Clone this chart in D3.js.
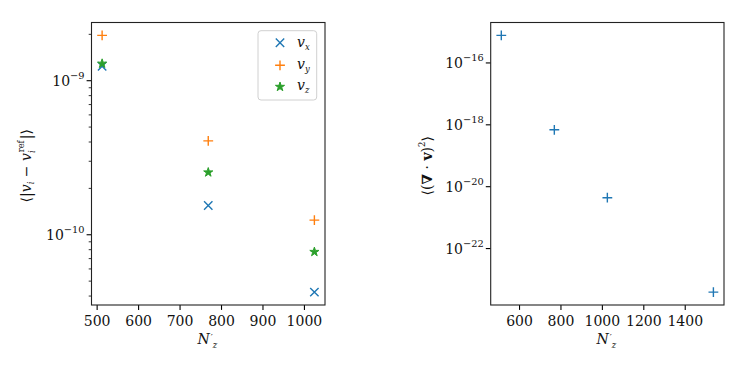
<!DOCTYPE html>
<html><head><meta charset="utf-8">
<script src="https://cdn.jsdelivr.net/npm/d3@7"></script>
<style>
body{margin:0;background:#fff;}
</style></head>
<body><svg id="c" width="747" height="374"></svg>
<script>
// ---- data ----
const nzLeft = [512, 768, 1024];
const vx = [1.24e-9, 1.55e-10, 4.24e-11];
const vy = [1.97e-9, 4.07e-10, 1.245e-10];
const vz = [1.30e-9, 2.56e-10, 7.8e-11];
const nzRight = [512, 768, 1024, 1536];
const divv = [7.8e-16, 6.9e-19, 4.4e-21, 3.9e-24];
const xTicksLeft = [500, 600, 700, 800, 900, 1000];
const xTicksRight = [600, 800, 1000, 1200, 1400];
const yTicksLeft = [-9, -10];
const yTicksRight = [-16, -18, -20, -22];
const seriesNames = ["x", "y", "z"];

const colors = {x: "#1f77b4", y: "#ff7f0e", z: "#2ca02c"};
const svg = d3.select("#c");
const FS = 14;
const SERIF = "DejaVu Serif";

function pad(ext, f){ const d = ext[1]-ext[0]; return [ext[0]-f*d, ext[1]+f*d]; }

function logDomain(vals){
  const l = vals.map(Math.log10);
  const e = pad(d3.extent(l), 0.05);
  return [Math.pow(10,e[0]), Math.pow(10,e[1])];
}

function txt(g){ return g.append("text").style("font-family",SERIF).attr("fill","#111"); }

function drawAxes(box, xs, ys, xTicks, yDec, minor){
  const g = svg.append("g");
  xTicks.forEach(t=>{
    const x = xs(t);
    g.append("line").attr("x1",x).attr("x2",x).attr("y1",box.y1).attr("y2",box.y1+4.9)
      .attr("stroke","#000").attr("stroke-width",1.1);
    txt(g).attr("x",x).attr("y",box.y1+21).attr("text-anchor","middle")
      .style("font-size",FS+"px").text(t);
  });
  yDec.forEach(d=>{
    const y = ys(Math.pow(10,d));
    g.append("line").attr("x1",box.x0-4.9).attr("x2",box.x0).attr("y1",y).attr("y2",y)
      .attr("stroke","#000").attr("stroke-width",1.1);
    const t = txt(g).attr("x",box.x0-7).attr("y",y+5.5).attr("text-anchor","end").style("font-size",FS+"px");
    t.append("tspan").text("10");
    t.append("tspan").attr("dy",-7).style("font-size",FS*0.7+"px").text("\u2212"+Math.abs(d));
  });
  if(minor){
    const [lo,hi] = ys.domain();
    for(let e=Math.floor(Math.log10(lo)); e<=Math.ceil(Math.log10(hi)); e++){
      for(let m=2;m<=9;m++){
        const v = m*Math.pow(10,e);
        if(v>=lo && v<=hi){
          const y = ys(v);
          g.append("line").attr("x1",box.x0-2.8).attr("x2",box.x0).attr("y1",y).attr("y2",y)
            .attr("stroke","#000").attr("stroke-width",0.8);
        }
      }
    }
  }
  g.append("rect").attr("x",box.x0).attr("y",box.y0).attr("width",box.x1-box.x0).attr("height",box.y1-box.y0)
    .attr("fill","none").attr("stroke","#222").attr("stroke-width",1.1);
  // xlabel N'_z
  const cx = (box.x0+box.x1)/2;
  const xl = txt(g).attr("x",cx-1).attr("y",box.y1+39).attr("text-anchor","middle").style("font-size",FS+"px");
  xl.append("tspan").attr("font-style","italic").text("N");
  xl.append("tspan").attr("dy",-3).attr("dx",1).style("font-size",FS*0.65+"px").text("\u2032");
  xl.append("tspan").attr("dy",7).attr("dx",0).style("font-size",FS*0.6+"px").attr("font-style","italic").text("z");
  return g;
}

function marker(g, type, x, y, c){
  if(type==="x"){
    const s=4.2;
    g.append("path").attr("d",`M${x-s},${y-s}L${x+s},${y+s}M${x-s},${y+s}L${x+s},${y-s}`)
      .attr("stroke",c).attr("stroke-width",1.4).attr("fill","none");
  } else if(type==="+"){
    const s=4.9;
    g.append("path").attr("d",`M${x-s},${y}L${x+s},${y}M${x},${y-s}L${x},${y+s}`)
      .attr("stroke",c).attr("stroke-width",1.4).attr("fill","none");
  } else {
    g.append("path").attr("d",d3.symbol(d3.symbolStar,26)()).attr("transform",`translate(${x},${y+0.5})`)
      .attr("fill",c).attr("stroke",c).attr("stroke-width",1);
  }
}

// ---- left plot ----
const boxL = {x0:91.5, x1:325, y0:22.5, y1:305};
const xsL = d3.scaleLinear().domain(pad(d3.extent(nzLeft),0.05)).range([boxL.x0,boxL.x1]);
const ysL = d3.scaleLog().domain(logDomain([...vx,...vy,...vz])).range([boxL.y1,boxL.y0]);
const gL = drawAxes(boxL, xsL, ysL, xTicksLeft, yTicksLeft, true);
const seriesL = [{k:"x",m:"x",v:vx},{k:"y",m:"+",v:vy},{k:"z",m:"*",v:vz}];
seriesL.forEach(s=>{
  s.v.forEach((v,i)=>marker(gL, s.m, xsL(nzLeft[i]), ysL(v), colors[s.k]));
});
// y label left
{
  const t = txt(gL).attr("transform",`translate(31,${(boxL.y0+boxL.y1)/2+2}) rotate(-90)`)
    .attr("text-anchor","middle").style("font-size",FS+"px");
  t.append("tspan").text("\u27E8|");
  t.append("tspan").attr("font-style","italic").text("v");
  t.append("tspan").attr("dy",3).style("font-size",FS*0.6+"px").attr("font-style","italic").text("i");
  t.append("tspan").attr("dy",-3).text(" \u2212 ");
  t.append("tspan").attr("font-style","italic").text("v");
  t.append("tspan").attr("dy",4).style("font-size",FS*0.6+"px").attr("font-style","italic").text("i");
  t.append("tspan").attr("dy",-11).attr("dx",-2).style("font-size",FS*0.6+"px").text("ref");
  t.append("tspan").attr("dy",7).attr("dx",1).text("|\u27E9");
}
// legend
{
  const lg = gL.append("g");
  lg.append("rect").attr("x",258).attr("y",30.7).attr("width",58.7).attr("height",69.3).attr("rx",3)
    .attr("fill","#fff").attr("fill-opacity",0.8).attr("stroke","#d0d0d0").attr("stroke-width",1);
  const ys = [42.7, 65.3, 86.3];
  seriesL.forEach((s,i)=>{
    marker(lg, s.m, 280, ys[i], colors[s.k]);
    const t = txt(lg).attr("x",297).attr("y",ys[i]+4).style("font-size",FS+"px");
    t.append("tspan").attr("font-style","italic").text("v");
    t.append("tspan").attr("dy",3).style("font-size",FS*0.6+"px").attr("font-style","italic").text(seriesNames[i]);
  });
}

// ---- right plot ----
const boxR = {x0:490.7, x1:724, y0:22.5, y1:305};
const xsR = d3.scaleLinear().domain(pad(d3.extent(nzRight),0.05)).range([boxR.x0,boxR.x1]);
const ysR = d3.scaleLog().domain(logDomain(divv)).range([boxR.y1,boxR.y0]);
const gR = drawAxes(boxR, xsR, ysR, xTicksRight, yTicksRight, false);
divv.forEach((v,i)=>marker(gR, "+", xsR(nzRight[i]), ysR(v), colors.x));
{
  const t = txt(gR).attr("transform",`translate(432,${(boxR.y0+boxR.y1)/2+2}) rotate(-90)`)
    .attr("text-anchor","middle").style("font-size",FS+"px");
  t.append("tspan").text("\u27E8(");
  t.append("tspan").attr("font-weight","bold").text("\u2207");
  t.append("tspan").text(" \u00B7 ");
  t.append("tspan").attr("font-weight","bold").text("v");
  t.append("tspan").text(")");
  t.append("tspan").attr("dy",-7).style("font-size",FS*0.6+"px").text("2");
  t.append("tspan").attr("dy",7).text("\u27E9");
}
</script></body></html>
